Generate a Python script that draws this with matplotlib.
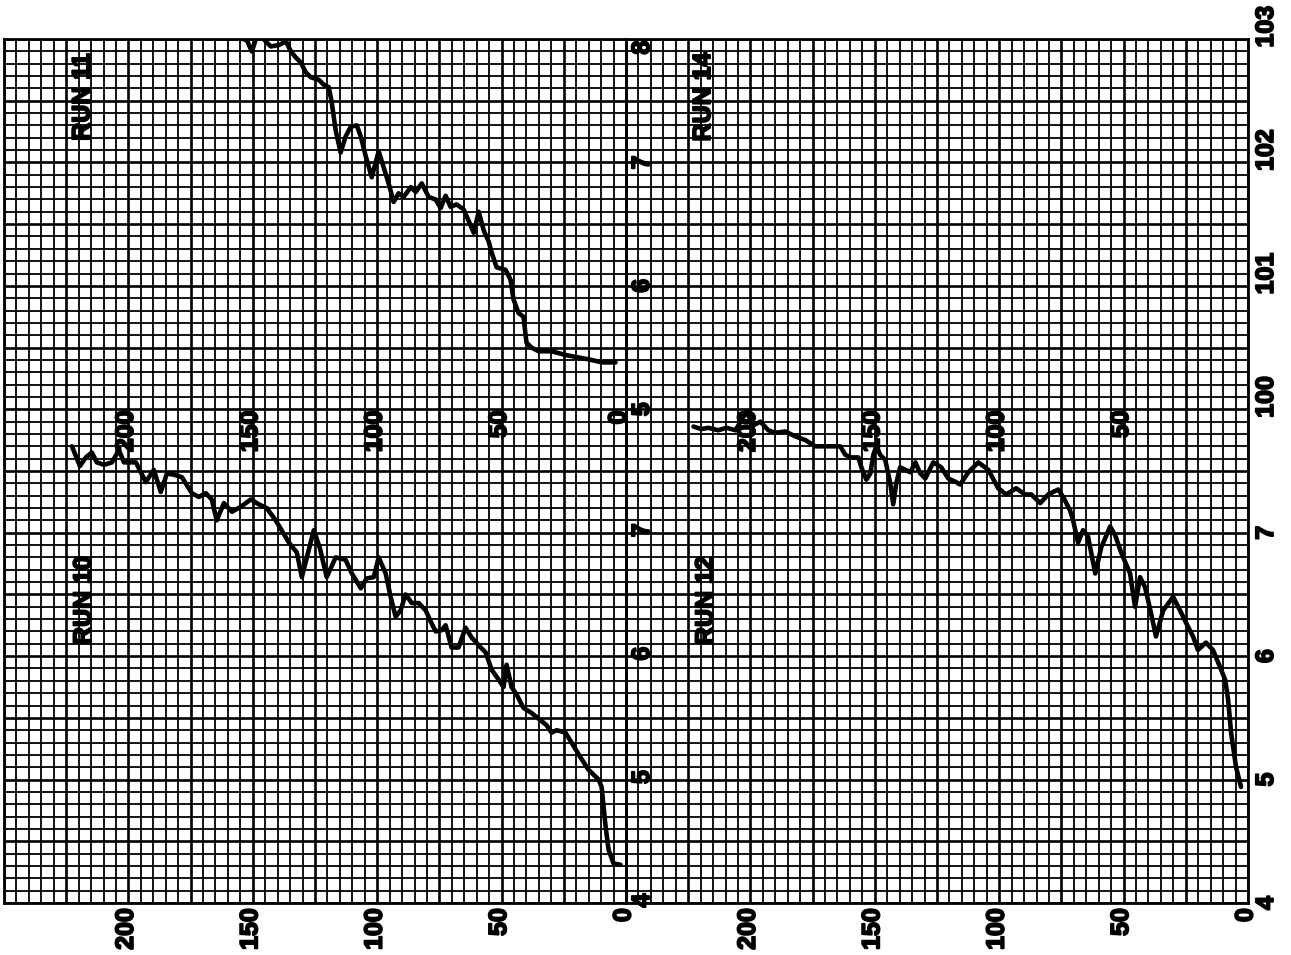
import matplotlib
matplotlib.use("Agg")
import matplotlib.pyplot as plt
import matplotlib.patheffects as pe
from matplotlib.ticker import MultipleLocator

# ---- data -------------------------------------------------------------
time_labels = [200, 150, 100, 50, 0]
lower_scale = [4, 5, 6, 7]          # lower chart, both halves
upper_scale_left = [5, 6, 7, 8]     # upper chart, left half
upper_scale_right = [100, 101, 102, 103]  # upper chart, right half

run10_t = [222.7, 219.5, 217.1, 214.7, 212.7, 209.8, 206.6, 203.8, 201.8, 197.0,
           193.0, 189.8, 187.0, 184.5, 181.7, 178.5, 174.5, 171.7, 168.9, 166.5,
           164.5, 161.6, 158.4, 154.8, 150.8, 147.6, 144.4, 140.8, 138.4, 135.5,
           132.3, 130.3, 125.5, 123.1, 120.3, 116.7, 112.7, 110.2, 106.6, 104.2,
           101.4, 99.4, 96.6, 94.6, 92.6, 90.6, 88.6, 86.1, 83.3, 80.5,
           78.5, 76.5, 74.1, 72.5, 70.1, 67.3, 64.5, 62.0, 58.4, 56.4,
           54.0, 51.2, 49.2, 48.0, 46.0, 44.0, 41.2, 38.0, 34.3, 31.9,
           29.9, 27.9, 24.3, 21.9, 18.3, 15.1, 11.0, 9.8, 8.2, 7.0,
           5.0, 2.2]
run10_v = [7.70, 7.54, 7.61, 7.65, 7.57, 7.55, 7.57, 7.67, 7.57, 7.57,
           7.41, 7.51, 7.33, 7.48, 7.47, 7.45, 7.32, 7.29, 7.32, 7.27,
           7.10, 7.24, 7.17, 7.21, 7.27, 7.23, 7.20, 7.10, 7.02, 6.92,
           6.84, 6.64, 7.02, 6.88, 6.64, 6.80, 6.78, 6.67, 6.55, 6.63,
           6.64, 6.80, 6.67, 6.48, 6.32, 6.37, 6.50, 6.43, 6.43, 6.37,
           6.28, 6.20, 6.21, 6.25, 6.07, 6.07, 6.23, 6.15, 6.07, 6.03,
           5.89, 5.81, 5.75, 5.93, 5.75, 5.69, 5.58, 5.54, 5.48, 5.44,
           5.38, 5.40, 5.38, 5.30, 5.18, 5.08, 5.00, 4.94, 4.62, 4.43,
           4.32, 4.31]

run11_t = [170.0, 155.6, 152.4, 150.4, 148.4, 146.8, 144.8, 142.8, 139.6, 136.7, 134.7,
           132.7, 130.7, 128.7, 126.7, 123.5, 121.5, 119.5, 118.3, 116.7, 114.7,
           112.7, 110.6, 108.2, 106.6, 104.6, 102.2, 99.4, 97.4, 95.4, 93.4,
           91.4, 89.4, 86.5, 84.5, 82.1, 79.3, 76.5, 74.5, 72.5, 70.5,
           68.1, 65.3, 63.3, 61.2, 59.2, 57.2, 55.2, 54.0, 52.0, 48.4,
           46.4, 45.2, 43.2, 41.2, 40.0, 38.0, 35.1, 29.9, 24.3, 19.1,
           13.9, 9.8, 4.2]
run11_v = [8.02, 8.01, 7.99, 7.90, 8.02, 8.03, 7.98, 7.94, 7.95, 7.98, 7.90,
           7.85, 7.81, 7.73, 7.69, 7.67, 7.63, 7.61, 7.49, 7.26, 7.08,
           7.21, 7.29, 7.30, 7.21, 7.05, 6.88, 7.09, 6.96, 6.83, 6.68,
           6.75, 6.72, 6.80, 6.76, 6.83, 6.72, 6.70, 6.63, 6.73, 6.64,
           6.66, 6.62, 6.53, 6.43, 6.60, 6.45, 6.36, 6.27, 6.15, 6.13,
           6.05, 5.89, 5.78, 5.75, 5.54, 5.50, 5.47, 5.47, 5.44, 5.42,
           5.40, 5.38, 5.38]

run12_t = [222.9, 219.7, 216.9, 212.9, 209.6, 206.0, 201.6, 198.8, 196.0, 192.8,
           190.0, 185.9, 181.9, 177.9, 173.9, 168.7, 163.9, 161.8, 159.4, 156.6,
           155.4, 153.4, 151.8, 150.6, 149.4, 147.8, 145.8, 143.8, 142.6, 141.4,
           139.8, 137.8, 135.7, 133.7, 131.7, 129.7, 126.5, 123.3, 120.5, 117.3,
           115.7, 112.4, 108.4, 104.4, 100.4, 97.2, 93.2, 89.6, 87.1, 83.5,
           80.3, 76.3, 74.3, 71.5, 70.3, 68.3, 66.3, 64.3, 61.4, 59.0,
           55.4, 53.4, 51.0, 47.4, 45.4, 43.4, 41.4, 39.0, 37.0, 34.1,
           30.1, 27.3, 24.9, 22.1, 20.1, 16.9, 14.1, 11.2, 9.2, 8.0,
           6.8, 4.8, 2.8]
run12_v = [7.86, 7.84, 7.85, 7.83, 7.85, 7.83, 7.98, 7.87, 7.90, 7.83,
           7.81, 7.82, 7.78, 7.75, 7.70, 7.70, 7.70, 7.63, 7.61, 7.61,
           7.53, 7.43, 7.48, 7.63, 7.70, 7.63, 7.59, 7.40, 7.23, 7.40,
           7.53, 7.51, 7.49, 7.57, 7.48, 7.44, 7.57, 7.53, 7.44, 7.41,
           7.39, 7.49, 7.57, 7.51, 7.36, 7.31, 7.36, 7.31, 7.31, 7.24,
           7.31, 7.35, 7.29, 7.18, 7.10, 6.92, 7.02, 6.97, 6.67, 6.88,
           7.05, 6.98, 6.84, 6.67, 6.40, 6.64, 6.56, 6.35, 6.16, 6.37,
           6.48, 6.37, 6.27, 6.16, 6.05, 6.11, 6.05, 5.91, 5.81, 5.65,
           5.38, 5.10, 4.94]

# ---- figure -----------------------------------------------------------
W, H = 1291, 955
fig = plt.figure(figsize=(W / 100, H / 100), dpi=100)
fig.patch.set_facecolor("white")

left, right, top, bottom = 4, 1248, 39, 903
mid = (left + right) / 2
box_h = (bottom - top) / H
axL = fig.add_axes([left / W, (H - bottom) / H, (mid - left) / W, box_h])
axR = fig.add_axes([mid / W, (H - bottom) / H, (right - mid) / W, box_h])

# heavy plotter-style lettering, drawn on the figure so no axes covers it
heavy = [pe.withStroke(linewidth=1.3, foreground="black")]
FONT = dict(family="Liberation Sans", fontweight="bold", color="black",
            fontsize=18, rotation=90, path_effects=heavy, zorder=10)

for ax in (axL, axR):
    ax.set_xlim(250, 0)
    ax.set_ylim(4, 11)
    ax.patch.set_visible(False)
    ax.xaxis.set_major_locator(MultipleLocator(25))
    ax.xaxis.set_minor_locator(MultipleLocator(5))
    ax.yaxis.set_major_locator(MultipleLocator(0.5))
    ax.yaxis.set_minor_locator(MultipleLocator(0.1))
    ax.grid(which="major", color="black", lw=1.9)
    ax.grid(which="minor", color="black", lw=1.3)
    ax.tick_params(which="both", length=0, labelbottom=False, labelleft=False)
    ax.set_axisbelow(True)
    for s in ax.spines.values():
        s.set_linewidth(2.0)
        s.set_zorder(5)

# upper chart on the left half uses its own 1..8 scale (5 at the midline)
axL2 = axL.twinx()
axL2.set_ylim(1, 8)
axL2.set_xlim(250, 0)
axL2.axis("off")

# upper chart on the right half reads 96..103 (100 at the midline)
axR2 = axR.twinx()
axR2.set_ylim(96, 103)
axR2.set_xlim(250, 0)
axR2.axis("off")

line_kw = dict(color="black", lw=3.3, solid_joinstyle="round", solid_capstyle="round", zorder=6)
axL.plot(run10_t, run10_v, **line_kw)
axL2.plot(run11_t, run11_v, **line_kw)
axR.plot(run12_t, run12_v, **line_kw)

# ---- time labels under each half and along the midline -----------------
for ax in (axL, axR):
    for t in time_labels:
        fig.text(t + 1, -0.006, str(t), transform=ax.get_xaxis_transform(),
                 ha="center", va="top", **FONT)

for ax, labels in ((axL, time_labels), (axR, time_labels[:-1])):
    for t in labels:
        fig.text(t + (3 if t == 0 else 1), 7.99, str(t), transform=ax.transData,
                 ha="center", va="top", **FONT)

# ---- value labels: middle column (left half) and right side ------------
xa_mid = 1.0 + 16 / (mid - left)
for v in lower_scale:
    fig.text(xa_mid, v + 0.02, str(v), transform=axL.get_yaxis_transform(),
             ha="center", va="center", **FONT)
for v in upper_scale_left:
    fig.text(xa_mid, min(v, 7.93), str(v), transform=axL2.get_yaxis_transform(),
             ha="center", va="center", **FONT)

xa_right = 1.0 + 18 / (right - mid)
for v in lower_scale:
    fig.text(xa_right, v, str(v), transform=axR.get_yaxis_transform(),
             ha="center", va="center", **FONT)
for v in upper_scale_right:
    fig.text(xa_right, v + 0.1, str(v), transform=axR2.get_yaxis_transform(),
             ha="center", va="center", **FONT)

# ---- run titles ---------------------------------------------------------
fig.text(218.5, 7.53, "RUN 11", transform=axL2.transData, ha="center", va="center", **FONT)
fig.text(218, 6.45, "RUN 10", transform=axL.transData, ha="center", va="center", **FONT)
fig.text(219, 102.53, "RUN 14", transform=axR2.transData, ha="center", va="center", **FONT)
fig.text(218, 6.45, "RUN 12", transform=axR.transData, ha="center", va="center", **FONT)

fig.savefig("out.png", dpi=100, facecolor="white")
